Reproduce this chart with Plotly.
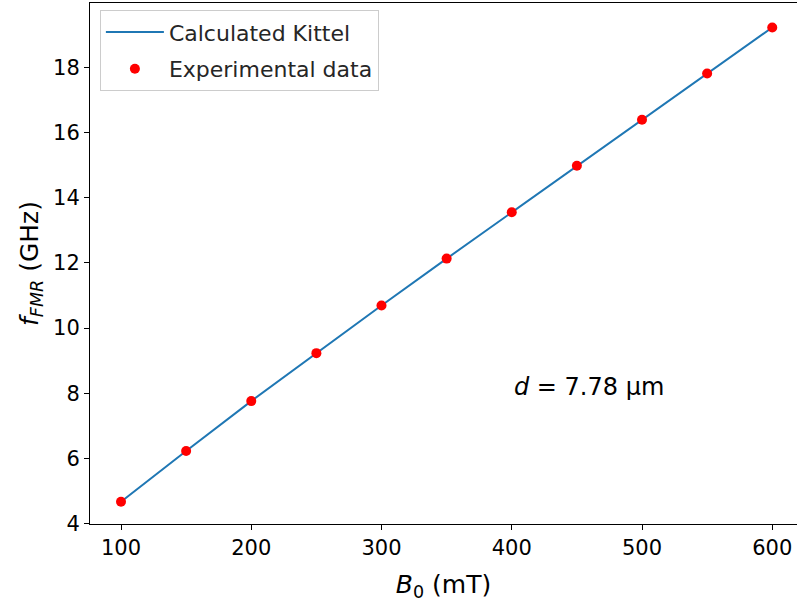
import plotly.graph_objects as go

# Data
field_mT = [100, 150, 200, 250, 300, 350, 400, 450, 500, 550, 600]
f_exp_GHz = [4.67, 6.23, 7.76, 9.23, 10.69, 12.13, 13.55, 14.98, 16.39, 17.81, 19.22]
f_kittel_GHz = [4.67, 6.23, 7.76, 9.23, 10.69, 12.13, 13.55, 14.98, 16.39, 17.81, 19.22]
x_ticks = [100, 200, 300, 400, 500, 600]
y_ticks = [4, 6, 8, 10, 12, 14, 16, 18]

FONT = "DejaVu Sans"

fig = go.Figure()
fig.add_trace(go.Scatter(x=field_mT, y=f_kittel_GHz, mode="lines",
                         name="Calculated Kittel", legendgroup="a",
                         line=dict(color="#1f77b4", width=2)))
fig.add_trace(go.Scatter(x=field_mT, y=f_exp_GHz, mode="markers",
                         name="Experimental data", legendgroup="b",
                         marker=dict(color="red", size=10)))

fig.add_annotation(x=400, y=8.2, xref="x", yref="y",
                   text="<i>d</i> = 7.78 μm", showarrow=False,
                   xanchor="left", yanchor="middle",
                   font=dict(family=FONT, size=24, color="black"))

axis_common = dict(showgrid=False, zeroline=False, showline=True,
                   linecolor="black", linewidth=1, ticks="outside",
                   ticklen=5, tickwidth=1, tickcolor="black",
                   tickfont=dict(family=FONT, size=21, color="black"))

fig.update_xaxes(range=[76.2, 619], tickvals=x_ticks, mirror=True,
                 title=dict(text="<i>B</i><sub>0</sub> (mT)", standoff=16,
                            font=dict(family=FONT, size=25, color="black")),
                 **axis_common)
fig.update_yaxes(range=[3.99, 19.97], tickvals=y_ticks,
                 title=dict(text="<i>f</i><sub><i>FMR</i></sub> (GHz)", standoff=7,
                            font=dict(family=FONT, size=25, color="black")),
                 **axis_common)

fig.update_layout(
    width=797, height=603,
    margin=dict(l=90, r=0, t=3, b=79),
    plot_bgcolor="white", paper_bgcolor="white",
    font=dict(family=FONT, size=21, color="black"),
    legend=dict(x=0.014, y=0.986, xanchor="left", yanchor="top",
                bgcolor="rgba(255,255,255,0.8)", bordercolor="#cccccc",
                borderwidth=1, font=dict(family=FONT, size=22, color="#262626"),
                itemwidth=58, tracegroupgap=5),
    showlegend=True,
)

fig.write_html("out.html")
